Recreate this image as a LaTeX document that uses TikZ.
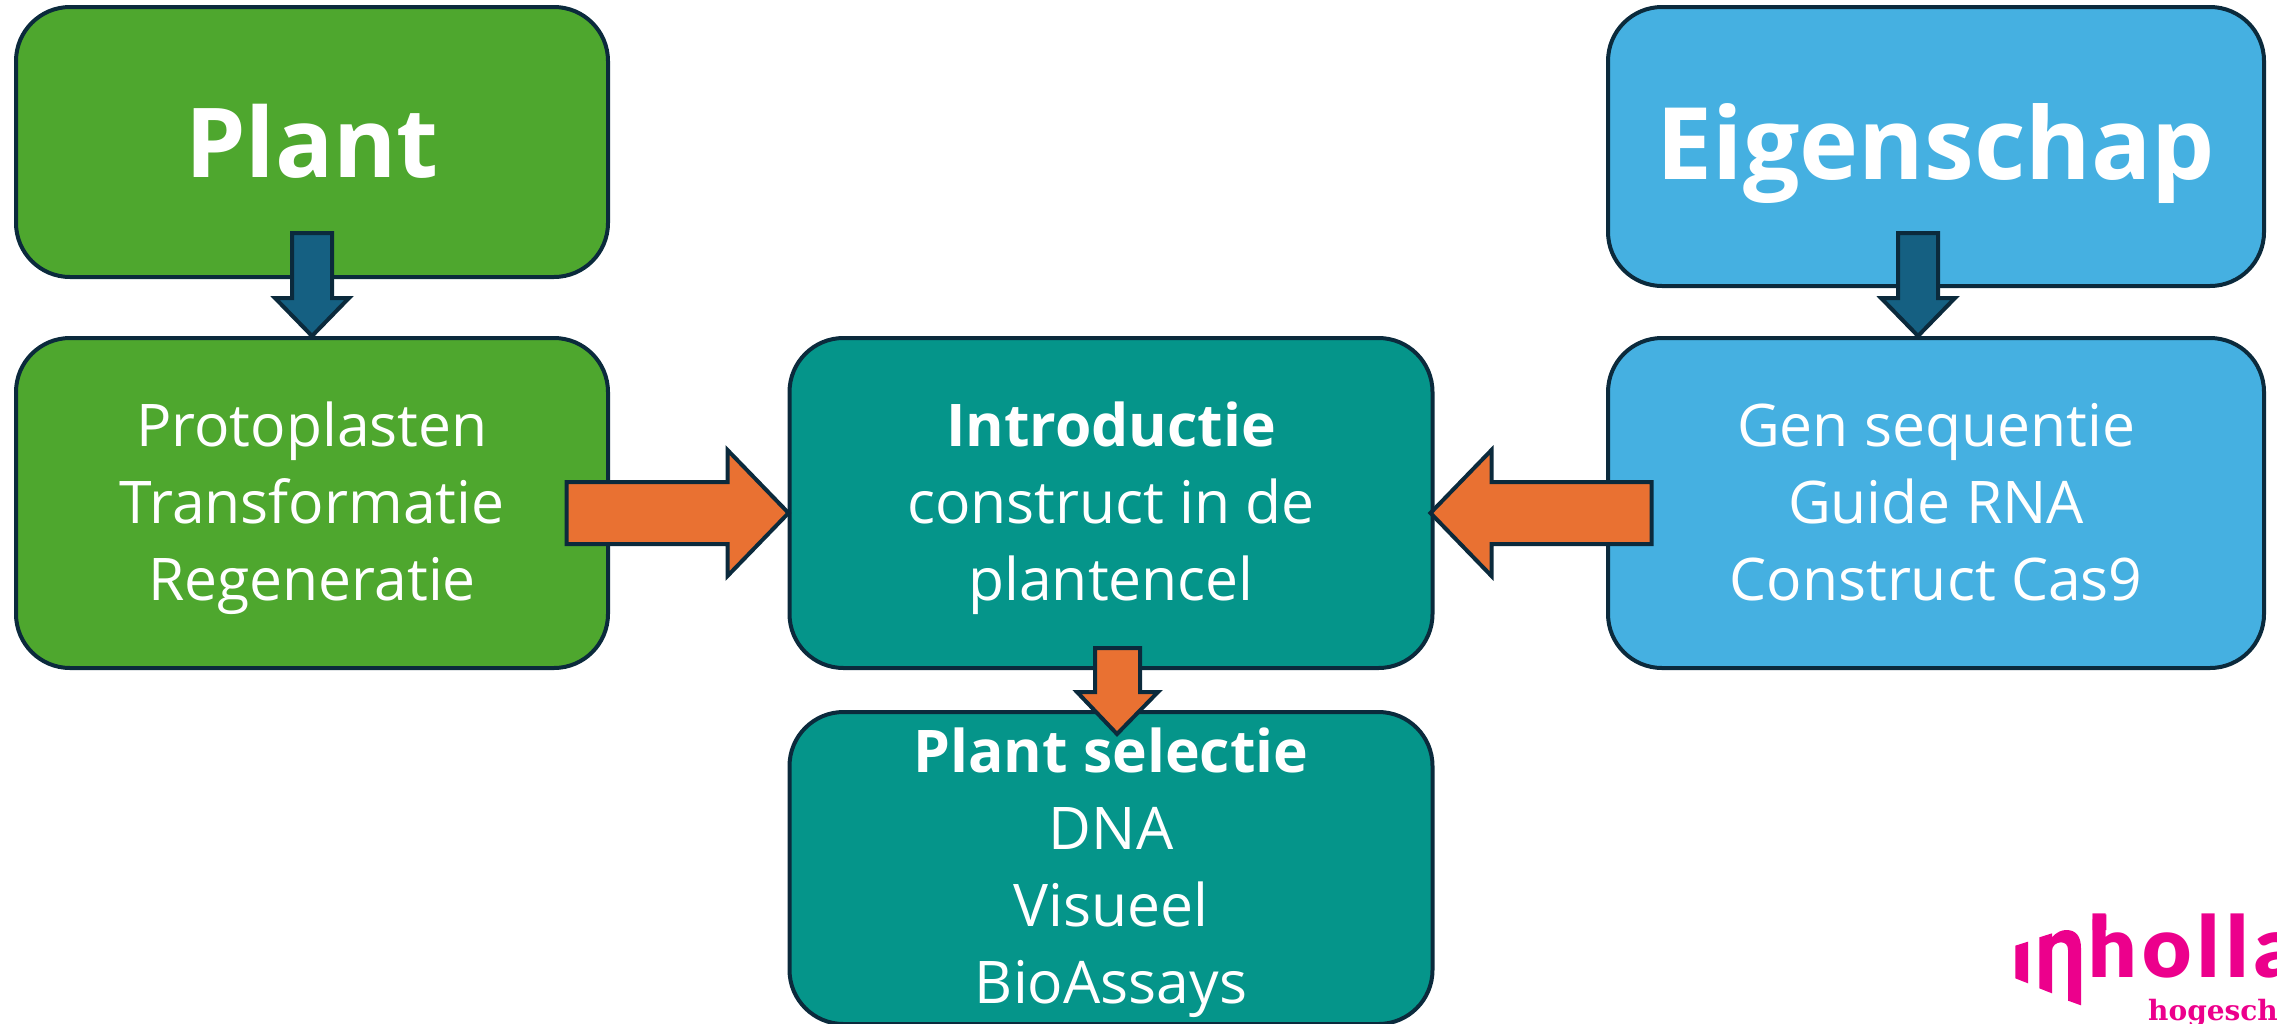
\documentclass[tikz,border=0pt]{standalone}
\usepackage{fontspec}
\setmainfont{Open Sans}
\newfontfamily\logofont[BoldFont=Lato Black,LetterSpace=7]{Lato}
\newfontfamily\logoserif{DejaVu Serif}
\usetikzlibrary{calc}
\definecolor{edgeblue}{HTML}{0B2A3C}
\definecolor{leaf}{HTML}{4EA72E}
\definecolor{sky}{HTML}{45B0E1}
\definecolor{sea}{HTML}{05958A}
\definecolor{flame}{HTML}{E97132}
\definecolor{deep}{HTML}{156082}
\definecolor{logopink}{HTML}{EC008C}
\newcommand{\tfix}[2]{\rule[-#2pt]{0pt}{\dimexpr#1pt+#2pt\relax}}
\newcommand{\firstfix}{\tfix{55}{0}}
\newcommand{\lastfix}{\tfix{0}{14}}
\tikzset{
  x=1pt,y=-1pt,
  box/.style={draw=edgeblue,line width=4pt,rounded corners=54pt,align=center,text=white,inner sep=0pt,
    font=\fontsize{58.8}{77}\selectfont},
  titlebox/.style={box,font=\fontsize{96.5}{100}\selectfont\bfseries},
  bigtitlebox/.style={box,font=\fontsize{100}{100}\selectfont\bfseries},
  flamearrow/.style={draw=edgeblue,fill=flame,line width=4pt,miter limit=10},
  deeparrow/.style={draw=edgeblue,fill=deep,line width=4pt,miter limit=10},
  logoshape/.style={fill=logopink,draw=none},
}
\begin{document}
\begin{tikzpicture}
\useasboundingbox (0,0) rectangle (2277,1023);
\clip (0,0) rectangle (2277,1023);
\node[titlebox,fill=leaf,minimum width=592pt,minimum height=270pt] (plant) at (312,142) {\tfix{74}{3}Plant};
\node[box,fill=leaf,minimum width=592pt,minimum height=330pt] (proto) at (312,503) {\firstfix Protoplasten\\Transformatie\\Regeneratie\lastfix};
\node[box,fill=sea,minimum width=643pt,minimum height=330pt] (intro) at (1111,503) {\firstfix\textbf{Introductie}\\construct in de\\plantencel\lastfix};
\node[box,fill=sea,minimum width=643pt,minimum height=312pt] (select) at (1111,868) {\firstfix\textbf{Plant selectie}\\DNA\\Visueel\\BioAssays\lastfix};
\node[bigtitlebox,fill=sky,minimum width=656pt,minimum height=279pt] (trait) at (1936,146.5) {\tfix{91}{24}Eigenschap};
\node[box,fill=sky,minimum width=656pt,minimum height=330pt] (gene) at (1936,503) {\firstfix Gen sequentie\\Guide RNA\\Construct Cas9\lastfix};
% block arrows, tips anchored on the target nodes
\draw[deeparrow,shift={(proto.north)}] (0,0) -- (-37,-38) -- (-20,-38) -- (-20,-103) -- (20,-103) -- (20,-38) -- (37,-38) -- cycle;
\draw[deeparrow,shift={(gene.north)}] (-18,0) -- (-55,-38) -- (-38,-38) -- (-38,-103) -- (2,-103) -- (2,-38) -- (19,-38) -- cycle;
\draw[flamearrow,shift={(intro.west)}] (1,10) -- (-60,-53) -- (-60,-21) -- (-221,-21) -- (-221,41) -- (-60,41) -- (-60,73) -- cycle;
\draw[flamearrow,shift={(intro.east)}] (-4,10) -- (57,-53) -- (57,-21) -- (217,-21) -- (217,41) -- (57,41) -- (57,73) -- cycle;
\draw[flamearrow,shift={(intro.south)}] (6,64) -- (-34,22) -- (-16,22) -- (-16,-22) -- (29,-22) -- (29,22) -- (47,22) -- cycle;
% logo
\begin{scope}[shift={(1977,880)},x=0.3333pt,y=-0.3333pt]
\fill[logoshape] (115,197) -- (153,185) -- (153,310) -- (115,295) -- cycle;
\fill[logoshape] (187,172) -- (225,160) -- (225,172) .. controls (240,155) and (255,150) .. (268,150) .. controls (298,150) and (312,170) .. (312,205) -- (312,376) -- (273,362) -- (273,210) .. controls (273,195) and (265,187) .. (252,187) .. controls (238,187) and (225,197) .. (225,212) -- (225,340) -- (187,325) -- cycle;
\fill[logoshape] (347,118) -- (388,103) -- (388,150) -- (347,150) -- cycle;
\end{scope}
\node[anchor=base west,inner sep=0pt,text=logopink,font=\logofont\bfseries\fontsize{85}{85}\selectfont] (logoname) at (2088,977) {holla};
\node[anchor=base west,inner sep=0pt,text=logopink,font=\logoserif\bfseries\fontsize{28}{28}\selectfont] (logosub) at (2148,1020) {hogesch};
\end{tikzpicture}
\end{document}
